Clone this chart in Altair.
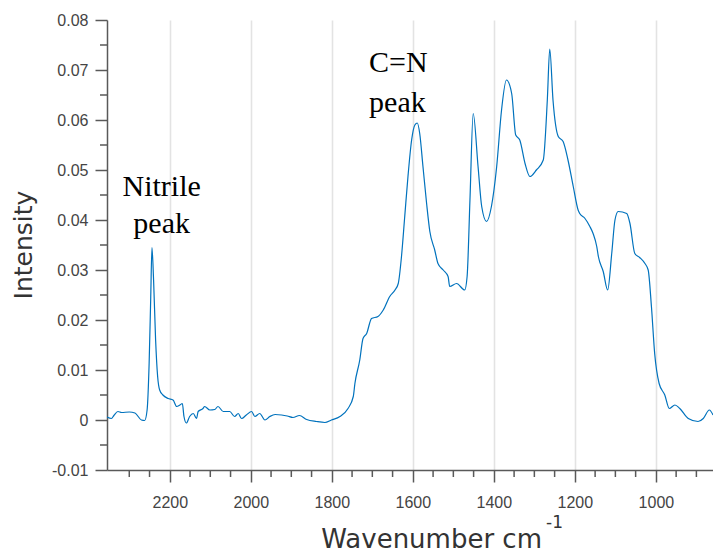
import altair as alt
import pandas as pd

# Spectrum (wavenumber in cm^-1, intensity)
wavenumber = [2355, 2344, 2338, 2328, 2319, 2300, 2286, 2270, 2262, 2256, 2251, 2247, 2244, 2240, 2235,
              2230, 2225, 2217, 2204, 2192, 2183, 2175, 2169, 2165, 2159, 2151, 2142, 2134, 2130,
              2118, 2114, 2101, 2089, 2081, 2068, 2060, 2052, 2040, 2031, 2023, 2011, 1998, 1990,
              1978, 1965, 1953, 1940, 1924, 1910, 1896, 1880, 1862, 1838, 1817, 1801, 1780, 1760, 1747, 1743, 1731,
              1723, 1714, 1702, 1686, 1673, 1657, 1644, 1636, 1628, 1620, 1612, 1603, 1595, 1589,
              1583, 1575, 1566, 1558, 1546, 1538, 1525, 1513, 1509, 1492, 1472, 1466, 1459, 1451,
              1439, 1430, 1418, 1406, 1393, 1381, 1369, 1356, 1346, 1336, 1323, 1311, 1295, 1278,
              1268, 1262, 1254, 1241, 1229, 1217, 1204, 1192, 1188, 1175, 1163, 1155, 1146, 1142,
              1130, 1119, 1109, 1101, 1093, 1072, 1064, 1052, 1040, 1027, 1019, 1011, 1003, 992,
              978, 967, 953, 941, 920, 896, 883, 868, 859]
intensity = [0.0006, 0.0003, 0.0009, 0.0017, 0.0015, 0.0016, 0.0014, 0.0000, -0.0001, 0.0020, 0.0113,
             0.0247, 0.0345, 0.0280, 0.0160, 0.0087, 0.0060, 0.0050, 0.0043, 0.0040, 0.0027,
             0.0030, 0.0033, 0.0007, -0.0006, 0.0007, 0.0013, 0.0003, 0.0017, 0.0023, 0.0027,
             0.0020, 0.0021, 0.0027, 0.0017, 0.0017, 0.0017, 0.0007, 0.0013, 0.0003, 0.0010,
             0.0017, 0.0007, 0.0013, 0.0000, 0.0007, 0.0011, 0.0010, 0.0008, 0.0005, 0.0009, 0.0001, -0.0003, -0.0005,
             0.0000, 0.0007, 0.0023, 0.0047, 0.0073, 0.0120, 0.0163, 0.0173, 0.0203, 0.0207,
             0.0220, 0.0247, 0.0260, 0.0273, 0.0327, 0.0407, 0.0487, 0.0560, 0.0590, 0.0594,
             0.0573, 0.0507, 0.0433, 0.0377, 0.0340, 0.0313, 0.0300, 0.0287, 0.0267, 0.0273,
             0.0260, 0.0287, 0.0440, 0.0613, 0.0507, 0.0427, 0.0397, 0.0427, 0.0507, 0.0620,
             0.0680, 0.0653, 0.0570, 0.0560, 0.0513, 0.0487, 0.0500, 0.0520, 0.0640, 0.0742,
             0.0640, 0.0567, 0.0557, 0.0520, 0.0467, 0.0420, 0.0413, 0.0403, 0.0387, 0.0373,
             0.0347, 0.0327, 0.0297, 0.0260, 0.0333, 0.0400, 0.0417, 0.0413, 0.0393, 0.0333,
             0.0325, 0.0313, 0.0300, 0.0227, 0.0133, 0.0073, 0.0050, 0.0023, 0.0030, 0.0023,
             0.0003, -0.0003, 0.0003, 0.0020, 0.0010]

x_major = [2200, 2000, 1800, 1600, 1400, 1200, 1000]
x_minor = [2300, 2250, 2150, 2100, 2050, 1950, 1900, 1850, 1750, 1700, 1650, 1550, 1500, 1450,
           1350, 1300, 1250, 1150, 1100, 1050, 950, 900]
y_major = [-0.01, 0.0, 0.01, 0.02, 0.03, 0.04, 0.05, 0.06, 0.07, 0.08]
y_minor = [-0.005, 0.005, 0.015, 0.025, 0.035, 0.045, 0.055, 0.065, 0.075]

# Annotations anchored in data coordinates
ann_text = ["Nitrile", "peak", "C=N", "peak"]
ann_wn = [2220, 2220, 1708, 1708]
ann_int = [0.0448, 0.0374, 0.0697, 0.0617]
ann_align = ["center", "center", "left", "left"]

X_DOMAIN = [859, 2355]
Y_DOMAIN = [-0.01, 0.08]

df = pd.DataFrame({"wn": wavenumber, "I": intensity})
xs = alt.Scale(domain=X_DOMAIN, reverse=True, nice=False, zero=False)
ys = alt.Scale(domain=Y_DOMAIN, nice=False, zero=False)

AX = "#595959"
LBL = "#444444"

line = alt.Chart(df).mark_line(color="#0072BD", strokeWidth=1.2, clip=True,
                               interpolate="monotone").encode(
    x=alt.X("wn:Q", scale=xs,
            axis=alt.Axis(values=x_major, title=None, grid=True, gridColor="#e3e3e3",
                          gridWidth=1.6, domainColor=AX, domainWidth=1.5, tickColor=AX,
                          tickWidth=1.5, tickSize=12, labelFont="Liberation Sans",
                          labelFontSize=16, labelColor=LBL, labelPadding=12,
                          labelFlush=False, labelOverlap=False, format="d")),
    y=alt.Y("I:Q", scale=ys,
            axis=alt.Axis(values=y_major, title=None, grid=False, domainColor=AX,
                          domainWidth=1.5, tickColor=AX, tickWidth=1.5, tickSize=12,
                          labelFont="Liberation Sans", labelFontSize=16, labelColor=LBL,
                          labelPadding=7, labelFlush=False, labelOverlap=False,
                          labelExpr="abs(datum.value) < 1e-9 ? '0' : (datum.value < 0 ? '-' + format(-datum.value, '.2f') : format(datum.value, '.2f'))")),
    order="wn:Q",
)

xmin_df = pd.DataFrame({"wn": x_minor})
xminor = alt.Chart(xmin_df).mark_rule(color=AX, strokeWidth=1.5).encode(
    x=alt.X("wn:Q", scale=xs), y=alt.value(450), y2=alt.value(457))

ymin_df = pd.DataFrame({"I": y_minor})
yminor = alt.Chart(ymin_df).mark_rule(color=AX, strokeWidth=1.5).encode(
    y=alt.Y("I:Q", scale=ys), x=alt.value(-7), x2=alt.value(0))

ann_df = pd.DataFrame({"t": ann_text, "wn": ann_wn, "I": ann_int, "al": ann_align})
ann_c = alt.Chart(ann_df[ann_df.al == "center"]).mark_text(
    font="Liberation Serif", fontSize=30, color="black", align="center", baseline="alphabetic"
).encode(x=alt.X("wn:Q", scale=xs), y=alt.Y("I:Q", scale=ys), text="t:N")
ann_l = alt.Chart(ann_df[ann_df.al == "left"]).mark_text(
    font="Liberation Serif", fontSize=30, color="black", align="left", baseline="alphabetic"
).encode(x=alt.X("wn:Q", scale=xs), y=alt.Y("I:Q", scale=ys), text="t:N")

xtitle = alt.Chart(pd.DataFrame({"t": ["Wavenumber cm"]})).mark_text(
    font="DejaVu Sans", fontSize=26, color="#333333", align="right", baseline="alphabetic"
).encode(x=alt.value(435), y=alt.value(528), text="t:N")
xsup = alt.Chart(pd.DataFrame({"t": ["-1"]})).mark_text(
    font="DejaVu Sans", fontSize=17, color="#333333", align="left", baseline="alphabetic"
).encode(x=alt.value(439), y=alt.value(508), text="t:N")
ytitle = alt.Chart(pd.DataFrame({"t": ["Intensity"]})).mark_text(
    font="DejaVu Sans", fontSize=25, color="#333333", align="center", baseline="alphabetic",
    angle=270
).encode(x=alt.value(-75), y=alt.value(225), text="t:N")

chart = alt.layer(line, xminor, yminor, ann_c, ann_l, xtitle, xsup, ytitle).properties(
    width=606, height=450,
    autosize=alt.AutoSizeParams(type="none"),
    padding={"left": 107, "top": 20, "right": 0, "bottom": 85},
    background="white",
).configure_view(stroke=None)

chart.save("out.html", embed_options={"renderer": "svg", "actions": False})
